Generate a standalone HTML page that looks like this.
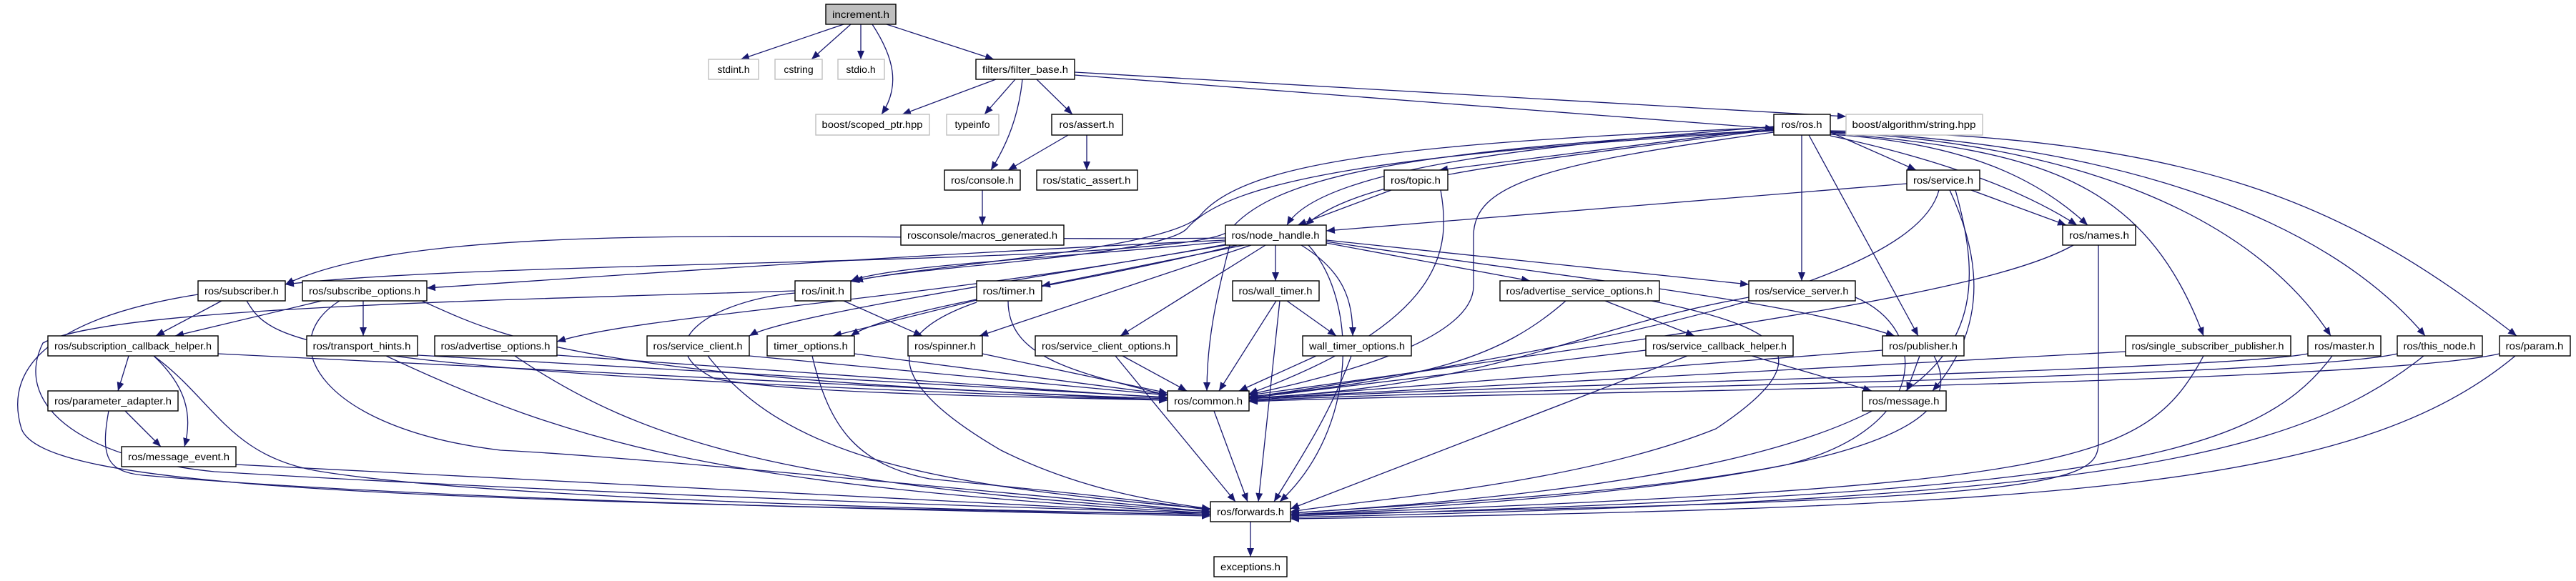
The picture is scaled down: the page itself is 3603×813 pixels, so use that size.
<!DOCTYPE html>
<html><head><meta charset="utf-8"><style>
html,body{margin:0;padding:0;background:#fff}
svg{display:block}
text{font-family:"Liberation Sans",sans-serif;font-size:14px;fill:#000}
.e{fill:none;stroke:#191970;stroke-width:1.3}
.n{fill:#fff;stroke:#000;stroke-width:1.4}
.g{fill:#fff;stroke:#bfbfbf;stroke-width:1.4}
</style></head><body>
<svg width="3603" height="813" viewBox="0 0 3603 813" xmlns="http://www.w3.org/2000/svg">
<defs><marker id="a" markerUnits="userSpaceOnUse" markerWidth="12" markerHeight="10" viewBox="0 0 12 10" refX="12" refY="5" orient="auto"><path d="M0,0 L12,5 L0,10 z" fill="#191970"/></marker></defs>
<g class="e" marker-end="url(#a)">
<path d="M1180 34 L1036 83"/><path d="M1190 34 L1135 83"/><path d="M1204 34 L1204 83"/>
<path d="M1220 34 C1250 80 1260 120 1233 160"/><path d="M1240 34 L1390 83"/>
<path d="M1393 111 L1262 160"/><path d="M1420 111 L1377 160"/>
<path d="M1430 111 C1425 160 1410 200 1386 238"/><path d="M1450 111 L1500 160"/>
<path d="M1503 105 L2481 180"/><path d="M1503 101 L2582 163"/>
<path d="M1494 189 L1410 238"/><path d="M1520 189 L1520 238"/><path d="M1374 266 L1374 315"/>
<path d="M2481 179 L2013 238"/>
<path d="M2481 177 C2200 200 1850 230 1800 315"/><path d="M2481 181 C2100 230 1900 250 1826 315"/>
<path d="M2481 178 C2000 200 1750 220 1680 300 C1640 350 1300 370 1195 393"/>
<path d="M2481 183 C1950 215 1720 250 1660 320 C1620 360 1280 372 1190 394"/>
<path d="M2481 182 C1950 210 1780 250 1720 322 C1680 372 700 362 399 398"/>
<path d="M2481 185 C2150 230 2061 260 2061 330 L2061 400 C2061 470 1900 520 1747 552"/>
<path d="M2520 189 L2520 393"/><path d="M2530 189 L2683 470"/><path d="M2560 185 L2680 238"/>
<path d="M2560 190 C2700 220 2820 260 2905 315"/><path d="M2560 188 C2750 200 2850 250 2920 315"/>
<path d="M2560 186 C2850 210 3000 250 3082 470"/><path d="M2560 185 C2900 200 3150 300 3260 470"/>
<path d="M2560 184 C2950 200 3250 300 3392 470"/><path d="M2560 183 C3100 190 3300 300 3520 470"/>
<path d="M2667 257 L1855 323"/><path d="M2757 266 L2890 315"/>
<path d="M2712 266 C2690 350 2500 450 1747 556"/><path d="M2727 266 C2780 380 2770 470 2703 547"/>
<path d="M2735 266 C2800 500 2750 660 1805 718"/>
<path d="M2900 343 C2800 400 2500 450 1747 553"/><path d="M2935 343 L2935 620 C2935 680 2850 700 1805 720"/>
<path d="M1946 266 L1815 315"/><path d="M2015 266 C2030 350 2020 450 1747 551"/>
<path d="M1714 333 C1200 340 600 300 399 398"/><path d="M1714 336 C1200 360 800 390 597 403"/>
<path d="M1714 338 C1500 360 1250 370 1190 393"/><path d="M1740 343 L1457 400"/>
<path d="M1784 343 L1784 393"/><path d="M1855 340 L2140 393"/><path d="M1855 336 L2446 398"/>
<path d="M1855 338 C2200 390 2500 420 2650 470"/><path d="M1714 343 C1500 380 1100 440 1048 470"/>
<path d="M1730 343 C1500 400 1250 430 1190 470"/><path d="M1750 343 L1370 470"/>
<path d="M1770 343 L1567 470"/><path d="M1820 343 C1880 380 1892 420 1892 470"/>
<path d="M1714 342 C1300 420 900 440 779 478"/><path d="M1720 343 C1700 420 1688 480 1688 547"/>
<path d="M1830 343 C1900 420 1900 600 1790 702"/>
<path d="M310 421 L218 470"/><path d="M345 421 C380 480 420 520 1633 560"/>
<path d="M277 412 C100 440 0 500 30 600 C60 680 500 700 1693 720"/>
<path d="M450 421 L245 470"/><path d="M508 421 L508 470"/>
<path d="M590 421 C700 470 800 530 1633 558"/>
<path d="M475 421 C380 480 450 600 700 630 C900 640 1400 690 1693 716"/>
<path d="M1180 421 L1290 470"/><path d="M1112 410 C1000 420 900 480 1000 530 C1100 550 1400 555 1633 560"/>
<path d="M1112 407 C700 420 150 430 60 480 C20 560 100 640 300 660 C800 690 1400 710 1693 718"/>
<path d="M1366 420 L1165 470"/><path d="M1410 421 C1410 500 1500 520 1633 553"/>
<path d="M1366 423 C1200 480 1280 560 1400 630 C1500 680 1600 700 1693 712"/>
<path d="M1800 421 L1869 470"/><path d="M1785 421 L1705 547"/><path d="M1790 421 L1760 702"/>
<path d="M2245 421 L2370 470"/><path d="M2190 421 C2100 500 2000 530 1747 555"/>
<path d="M2310 421 C2500 460 2550 500 2400 600 C2200 680 1900 700 1805 716"/>
<path d="M2446 416 C2200 460 2100 540 1747 557"/>
<path d="M2595 416 C2700 460 2700 600 2500 650 C2300 690 2000 705 1805 718"/>
<path d="M180 498 L165 547"/><path d="M215 498 C260 540 270 580 258 625"/>
<path d="M305 495 L1633 560"/>
<path d="M215 498 C300 560 320 640 450 660 C700 700 1400 715 1693 720"/>
<path d="M175 575 L225 625"/>
<path d="M152 575 C140 640 150 660 200 665 C600 700 1300 715 1693 722"/>
<path d="M330 650 L1693 720"/>
<path d="M584 497 L1633 556"/><path d="M540 498 C800 620 1000 680 1693 718"/>
<path d="M779 497 L1633 557"/><path d="M720 498 C900 620 1100 680 1693 716"/>
<path d="M1048 498 L1633 553"/><path d="M990 498 C1100 640 1300 680 1693 712"/>
<path d="M1195 495 L1633 552"/><path d="M1136 498 C1160 600 1200 650 1300 670 C1500 690 1600 700 1693 714"/>
<path d="M1374 495 L1633 550"/>
<path d="M1570 498 L1660 547"/><path d="M1560 498 L1728 702"/>
<path d="M1841 498 L1733 547"/><path d="M1890 498 C1860 580 1820 640 1782 702"/>
<path d="M2302 490 L1747 557"/><path d="M2450 498 L2618 547"/><path d="M2360 498 L1805 712"/>
<path d="M2633 490 L1747 558"/><path d="M2685 498 L2667 547"/>
<path d="M2705 498 C2760 600 2600 680 1805 720"/>
<path d="M2973 492 L1747 558"/><path d="M3082 498 C3000 650 2900 680 1805 720"/>
<path d="M3228 495 C3100 520 2000 540 1747 560"/><path d="M3262 498 C3150 650 2900 690 1805 722"/>
<path d="M3353 495 C3200 530 2000 545 1747 561"/><path d="M3390 498 C3200 650 2900 700 1805 724"/>
<path d="M3496 495 C3300 540 2000 550 1747 562"/><path d="M3518 498 C3300 680 2900 710 1805 726"/>
<path d="M1698 575 L1745 702"/><path d="M1749 730 L1749 779"/>
</g>
<g>
<rect x="1155" y="6" width="98" height="28" fill="#bfbfbf" stroke="#000" stroke-width="1.4"/>
<text x="1204" y="25" text-anchor="middle" textLength="80" lengthAdjust="spacingAndGlyphs">increment.h</text>
<rect class="g" x="991" y="83" width="70" height="28"/><text x="1026" y="102" text-anchor="middle" fill="#000">stdint.h</text>
<rect class="g" x="1084" y="83" width="66" height="28"/><text x="1117" y="102" text-anchor="middle">cstring</text>
<rect class="g" x="1172" y="83" width="65" height="28"/><text x="1204" y="102" text-anchor="middle">stdio.h</text>
<rect class="n" x="1365" y="83" width="138" height="28"/><text x="1434" y="102" text-anchor="middle" textLength="120" lengthAdjust="spacingAndGlyphs">filters/filter_base.h</text>
<rect class="g" x="1141" y="160" width="159" height="29"/><text x="1220" y="179" text-anchor="middle" textLength="141" lengthAdjust="spacingAndGlyphs">boost/scoped_ptr.hpp</text>
<rect class="g" x="1324" y="160" width="73" height="29"/><text x="1360" y="179" text-anchor="middle">typeinfo</text>
<rect class="n" x="1471" y="160" width="99" height="29"/><text x="1520" y="179" text-anchor="middle" textLength="77" lengthAdjust="spacingAndGlyphs">ros/assert.h</text>
<rect class="n" x="2481" y="160" width="79" height="29"/><text x="2520" y="179" text-anchor="middle" textLength="57" lengthAdjust="spacingAndGlyphs">ros/ros.h</text>
<rect class="g" x="2582" y="160" width="191" height="29"/><text x="2677" y="179" text-anchor="middle" textLength="173" lengthAdjust="spacingAndGlyphs">boost/algorithm/string.hpp</text>
<rect class="n" x="1321" y="238" width="106" height="28"/><text x="1374" y="257" text-anchor="middle" textLength="88" lengthAdjust="spacingAndGlyphs">ros/console.h</text>
<rect class="n" x="1450" y="238" width="141" height="28"/><text x="1520" y="257" text-anchor="middle" textLength="123" lengthAdjust="spacingAndGlyphs">ros/static_assert.h</text>
<rect class="n" x="1936" y="238" width="89" height="28"/><text x="1980" y="257" text-anchor="middle" textLength="70" lengthAdjust="spacingAndGlyphs">ros/topic.h</text>
<rect class="n" x="2667" y="238" width="102" height="28"/><text x="2718" y="257" text-anchor="middle" textLength="84" lengthAdjust="spacingAndGlyphs">ros/service.h</text>
<rect class="n" x="1260" y="315" width="228" height="28"/><text x="1374" y="334" text-anchor="middle" textLength="210" lengthAdjust="spacingAndGlyphs">rosconsole/macros_generated.h</text>
<rect class="n" x="1714" y="315" width="141" height="28"/><text x="1784" y="334" text-anchor="middle" textLength="123" lengthAdjust="spacingAndGlyphs">ros/node_handle.h</text>
<rect class="n" x="2885" y="315" width="102" height="28"/><text x="2936" y="334" text-anchor="middle" textLength="84" lengthAdjust="spacingAndGlyphs">ros/names.h</text>
<rect class="n" x="277" y="393" width="122" height="28"/><text x="338" y="412" text-anchor="middle" textLength="104" lengthAdjust="spacingAndGlyphs">ros/subscriber.h</text>
<rect class="n" x="423" y="393" width="174" height="28"/><text x="510" y="412" text-anchor="middle" textLength="156" lengthAdjust="spacingAndGlyphs">ros/subscribe_options.h</text>
<rect class="n" x="1112" y="393" width="78" height="28"/><text x="1151" y="412" text-anchor="middle" textLength="60" lengthAdjust="spacingAndGlyphs">ros/init.h</text>
<rect class="n" x="1366" y="393" width="91" height="28"/><text x="1411" y="412" text-anchor="middle" textLength="73" lengthAdjust="spacingAndGlyphs">ros/timer.h</text>
<rect class="n" x="1724" y="393" width="121" height="28"/><text x="1784" y="412" text-anchor="middle" textLength="103" lengthAdjust="spacingAndGlyphs">ros/wall_timer.h</text>
<rect class="n" x="2098" y="393" width="223" height="28"/><text x="2209" y="412" text-anchor="middle" textLength="205" lengthAdjust="spacingAndGlyphs">ros/advertise_service_options.h</text>
<rect class="n" x="2446" y="393" width="149" height="28"/><text x="2520" y="412" text-anchor="middle" textLength="131" lengthAdjust="spacingAndGlyphs">ros/service_server.h</text>
<rect class="n" x="67" y="470" width="238" height="28"/><text x="186" y="489" text-anchor="middle" textLength="220" lengthAdjust="spacingAndGlyphs">ros/subscription_callback_helper.h</text>
<rect class="n" x="429" y="470" width="155" height="28"/><text x="506" y="489" text-anchor="middle" textLength="137" lengthAdjust="spacingAndGlyphs">ros/transport_hints.h</text>
<rect class="n" x="608" y="470" width="171" height="28"/><text x="693" y="489" text-anchor="middle" textLength="153" lengthAdjust="spacingAndGlyphs">ros/advertise_options.h</text>
<rect class="n" x="905" y="470" width="143" height="28"/><text x="976" y="489" text-anchor="middle" textLength="125" lengthAdjust="spacingAndGlyphs">ros/service_client.h</text>
<rect class="n" x="1073" y="470" width="122" height="28"/><text x="1134" y="489" text-anchor="middle" textLength="104" lengthAdjust="spacingAndGlyphs">timer_options.h</text>
<rect class="n" x="1270" y="470" width="104" height="28"/><text x="1322" y="489" text-anchor="middle" textLength="86" lengthAdjust="spacingAndGlyphs">ros/spinner.h</text>
<rect class="n" x="1448" y="470" width="198" height="28"/><text x="1547" y="489" text-anchor="middle" textLength="180" lengthAdjust="spacingAndGlyphs">ros/service_client_options.h</text>
<rect class="n" x="1822" y="470" width="152" height="28"/><text x="1898" y="489" text-anchor="middle" textLength="134" lengthAdjust="spacingAndGlyphs">wall_timer_options.h</text>
<rect class="n" x="2302" y="470" width="206" height="28"/><text x="2405" y="489" text-anchor="middle" textLength="188" lengthAdjust="spacingAndGlyphs">ros/service_callback_helper.h</text>
<rect class="n" x="2633" y="470" width="114" height="28"/><text x="2690" y="489" text-anchor="middle" textLength="96" lengthAdjust="spacingAndGlyphs">ros/publisher.h</text>
<rect class="n" x="2973" y="470" width="231" height="28"/><text x="3088" y="489" text-anchor="middle" textLength="213" lengthAdjust="spacingAndGlyphs">ros/single_subscriber_publisher.h</text>
<rect class="n" x="3228" y="470" width="102" height="28"/><text x="3279" y="489" text-anchor="middle" textLength="84" lengthAdjust="spacingAndGlyphs">ros/master.h</text>
<rect class="n" x="3353" y="470" width="119" height="28"/><text x="3412" y="489" text-anchor="middle" textLength="101" lengthAdjust="spacingAndGlyphs">ros/this_node.h</text>
<rect class="n" x="3496" y="470" width="99" height="28"/><text x="3545" y="489" text-anchor="middle" textLength="81" lengthAdjust="spacingAndGlyphs">ros/param.h</text>
<rect class="n" x="67" y="547" width="182" height="28"/><text x="158" y="566" text-anchor="middle" textLength="164" lengthAdjust="spacingAndGlyphs">ros/parameter_adapter.h</text>
<rect class="n" x="1633" y="547" width="114" height="28"/><text x="1690" y="566" text-anchor="middle" textLength="96" lengthAdjust="spacingAndGlyphs">ros/common.h</text>
<rect class="n" x="2605" y="547" width="117" height="28"/><text x="2663" y="566" text-anchor="middle" textLength="99" lengthAdjust="spacingAndGlyphs">ros/message.h</text>
<rect class="n" x="170" y="625" width="160" height="28"/><text x="250" y="644" text-anchor="middle" textLength="142" lengthAdjust="spacingAndGlyphs">ros/message_event.h</text>
<rect class="n" x="1693" y="702" width="112" height="28"/><text x="1749" y="721" text-anchor="middle" textLength="94" lengthAdjust="spacingAndGlyphs">ros/forwards.h</text>
<rect class="n" x="1698" y="779" width="102" height="28"/><text x="1749" y="798" text-anchor="middle" textLength="84" lengthAdjust="spacingAndGlyphs">exceptions.h</text>
</g>
</svg>
</body></html>
